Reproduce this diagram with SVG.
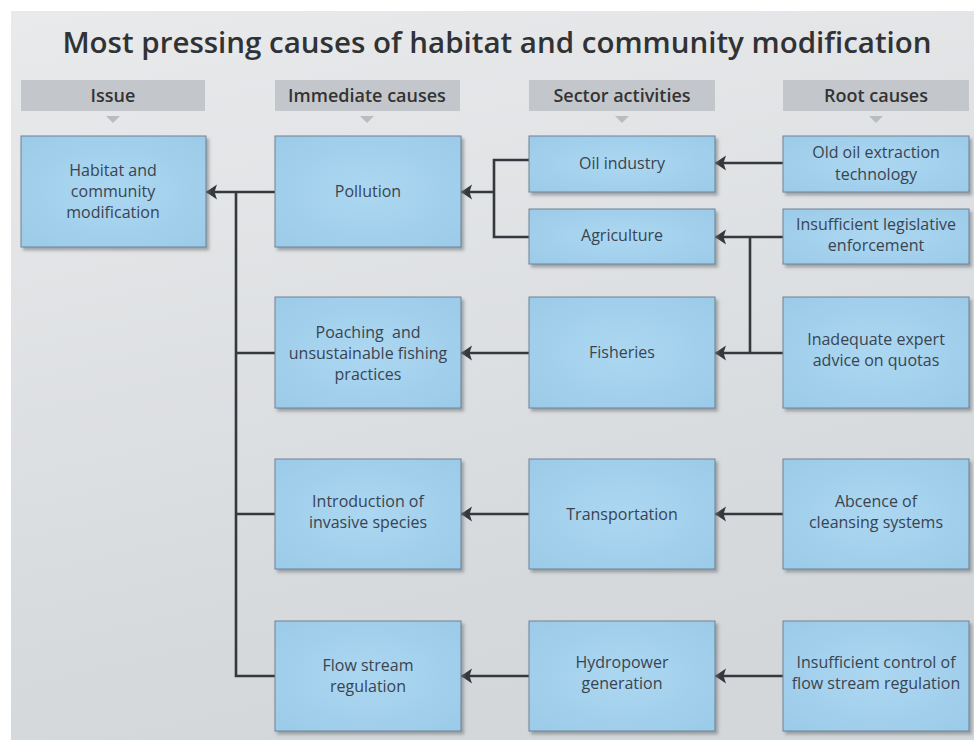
<svg xmlns="http://www.w3.org/2000/svg" width="974" height="740" viewBox="0 0 974 740">
<defs>
<linearGradient id="bg" x1="0" y1="0" x2="0.3" y2="1">
<stop offset="0" stop-color="#e9eaec"/>
<stop offset="1" stop-color="#d3d7da"/>
</linearGradient>
<radialGradient id="boxg" cx="0.5" cy="0.5" r="0.75">
<stop offset="0" stop-color="#acd7f1"/>
<stop offset="1" stop-color="#9acae8"/>
</radialGradient>
<filter id="sh" x="-10%" y="-10%" width="125%" height="130%">
<feDropShadow dx="2.5" dy="3" stdDeviation="1.5" flood-color="#6b7075" flood-opacity="0.55"/>
</filter>
<marker id="arr" markerUnits="userSpaceOnUse" markerWidth="13" markerHeight="16" refX="11" refY="7.5" orient="auto">
<path d="M0,0 L11,7.5 L0,15 L2.5,7.5 Z" fill="#35393d"/>
</marker>
<style>
.box{fill:url(#boxg);stroke:#6e8295;stroke-width:1;filter:url(#sh)}
.hdr{fill:#c3c7cb}
.tri{fill:#b9bdc1}
.ht{font-family:"Open Sans","Liberation Sans",sans-serif;font-weight:600;font-size:18px;fill:#333;text-anchor:middle}
.t{font-family:"Open Sans","Liberation Sans",sans-serif;font-size:16px;fill:#3a4450;text-anchor:middle}
.title{font-family:"Open Sans","Liberation Sans",sans-serif;font-weight:600;font-size:29.5px;fill:#303234;text-anchor:middle}
.c{fill:none;stroke:#35393d;stroke-width:2.6}
.a{marker-end:url(#arr)}
</style>
</defs>
<rect x="11" y="11" width="963" height="729" fill="url(#bg)"/>
<text class="title" x="497" y="53">Most pressing causes of habitat and community modification</text>

<g id="headers">
<rect class="hdr" x="21" y="80" width="184" height="31"/>
<text class="ht" x="113" y="102">Issue</text>
<path class="tri" d="M106,116 L120,116 L113,123 Z"/>
<rect class="hdr" x="275" y="80" width="185" height="31"/>
<text class="ht" x="367" y="102">Immediate causes</text>
<path class="tri" d="M360,116 L374,116 L367,123 Z"/>
<rect class="hdr" x="529" y="80" width="186" height="31"/>
<text class="ht" x="622" y="102">Sector activities</text>
<path class="tri" d="M615,116 L629,116 L622,123 Z"/>
<rect class="hdr" x="783" y="80" width="186" height="31"/>
<text class="ht" x="876" y="102">Root causes</text>
<path class="tri" d="M869,116 L883,116 L876,123 Z"/>
</g>

<g id="connectors">
<path class="c a" d="M275,192 H206"/>
<path class="c" d="M275,676 H236 V192"/>
<path class="c" d="M275,353 H236"/>
<path class="c" d="M275,514 H236"/>
<path class="c" d="M529,160 H494 V237 H529"/>
<path class="c a" d="M494,192 H461"/>
<path class="c a" d="M783,163 H715"/>
<path class="c a" d="M783,237 H715"/>
<path class="c" d="M750,237 V353"/>
<path class="c a" d="M783,353 H715"/>
<path class="c a" d="M529,353 H461"/>
<path class="c a" d="M529,514 H461"/>
<path class="c a" d="M783,514 H715"/>
<path class="c a" d="M529,676 H461"/>
<path class="c a" d="M783,676 H715"/>
</g>

<g id="habitat">
<rect class="box" x="21" y="136" width="185" height="111"/>
<text class="t" x="113" y="176">Habitat and</text>
<text class="t" x="113" y="197">community</text>
<text class="t" x="113" y="218">modification</text>
</g>
<g id="pollution">
<rect class="box" x="275" y="136" width="186" height="111"/>
<text class="t" x="368" y="197">Pollution</text>
</g>
<g id="oil-industry">
<rect class="box" x="529" y="136" width="186" height="56"/>
<text class="t" x="622" y="169">Oil industry</text>
</g>
<g id="agriculture">
<rect class="box" x="529" y="209" width="186" height="55"/>
<text class="t" x="622" y="241">Agriculture</text>
</g>
<g id="old-oil">
<rect class="box" x="783" y="136" width="186" height="56"/>
<text class="t" x="876" y="158">Old oil extraction</text>
<text class="t" x="876" y="180">technology</text>
</g>
<g id="legislative">
<rect class="box" x="783" y="209" width="186" height="55"/>
<text class="t" x="876" y="230">Insufficient legislative</text>
<text class="t" x="876" y="251">enforcement</text>
</g>
<g id="poaching">
<rect class="box" x="275" y="297" width="186" height="111"/>
<text class="t" x="368" y="338">Poaching&#160; and</text>
<text class="t" x="368" y="359">unsustainable fishing</text>
<text class="t" x="368" y="380">practices</text>
</g>
<g id="fisheries">
<rect class="box" x="529" y="297" width="186" height="111"/>
<text class="t" x="622" y="358">Fisheries</text>
</g>
<g id="expert-advice">
<rect class="box" x="783" y="297" width="186" height="111"/>
<text class="t" x="876" y="345">Inadequate expert</text>
<text class="t" x="876" y="366">advice on quotas</text>
</g>
<g id="invasive">
<rect class="box" x="275" y="459" width="186" height="110"/>
<text class="t" x="368" y="507">Introduction of</text>
<text class="t" x="368" y="528">invasive species</text>
</g>
<g id="transportation">
<rect class="box" x="529" y="459" width="186" height="110"/>
<text class="t" x="622" y="520">Transportation</text>
</g>
<g id="cleansing">
<rect class="box" x="783" y="459" width="186" height="110"/>
<text class="t" x="876" y="507">Abcence of</text>
<text class="t" x="876" y="528">cleansing systems</text>
</g>
<g id="flow-regulation">
<rect class="box" x="275" y="621" width="186" height="110"/>
<text class="t" x="368" y="671">Flow stream</text>
<text class="t" x="368" y="692">regulation</text>
</g>
<g id="hydropower">
<rect class="box" x="529" y="621" width="186" height="110"/>
<text class="t" x="622" y="668">Hydropower</text>
<text class="t" x="622" y="689">generation</text>
</g>
<g id="flow-control">
<rect class="box" x="783" y="621" width="186" height="110"/>
<text class="t" x="876" y="668">Insufficient control of</text>
<text class="t" x="876" y="689">flow stream regulation</text>
</g>
</svg>
